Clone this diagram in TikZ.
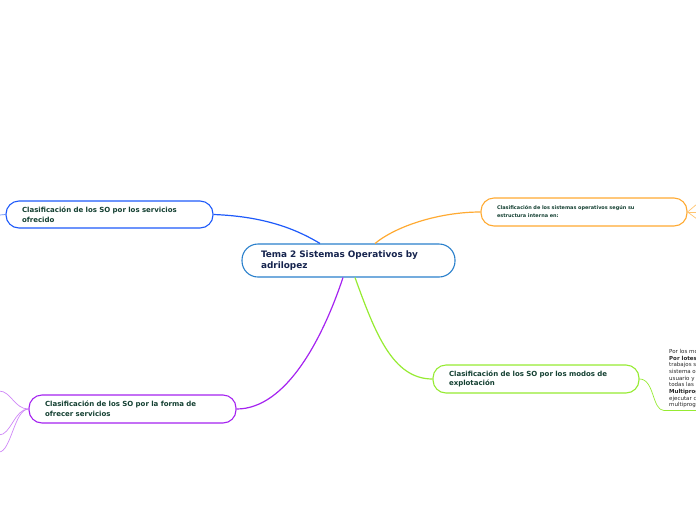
\documentclass[tikz,border=0pt]{standalone}
\usepackage{fontspec}
\setmainfont{DejaVu Sans}
\usetikzlibrary{positioning,calc}
\definecolor{centralblue}{RGB}{42,128,204}
\definecolor{branchblue}{RGB}{30,90,250}
\definecolor{branchorange}{RGB}{255,170,50}
\definecolor{branchpurple}{RGB}{165,35,240}
\definecolor{branchgreen}{RGB}{150,235,50}
\definecolor{navytext}{RGB}{22,36,78}
\definecolor{darkteal}{RGB}{20,64,50}
\definecolor{greytext}{RGB}{40,40,40}

\begin{document}
\begin{tikzpicture}[x=1pt,y=-1pt,
    topic/.style={draw,line width=1.1pt,rounded corners=13pt,fill=white,align=left,
        inner xsep=16pt,inner ysep=0pt,minimum height=28pt,text=darkteal,
        font=\bfseries\fontsize{7}{9.8}\selectfont},
    link/.style={line width=1.2pt},
    stub/.style={line width=0.7pt}]
    \useasboundingbox (0,0) rectangle (696,520);
    \clip (0,0) rectangle (696,520);

    % Central topic
    \node[draw=centralblue,line width=1.1pt,rounded corners=16pt,fill=white,align=left,
        inner xsep=19pt,inner ysep=0pt,text width=175pt,minimum height=33pt,text=navytext,
        font=\bfseries\fontsize{8.9}{11}\selectfont] (tema) at (348.5,260.5)
        {Tema 2 Sistemas Operativos by\\adrilopez};

    % Main topics
    \node[topic,draw=branchblue,text width=175pt,minimum height=27pt] (servicios) at (109.5,214.5)
        {Clasificación de los SO por los servicios\\ofrecido};
    \node[topic,draw=branchorange,text width=174pt,font=\bfseries\fontsize{4.95}{8}\selectfont] (estructura) at (584,212)
        {Clasificación de los sistemas operativos según su\\estructura interna en:};
    \node[topic,draw=branchpurple,text width=175pt] (forma) at (132.5,409)
        {Clasificación de los SO por la forma de\\ofrecer servicios};
    \node[topic,draw=branchgreen,text width=174pt] (modos) at (536,379)
        {Clasificación de los SO por los modos de\\explotación};

    % Links from the central topic
    \draw[link,branchblue] (servicios.east) .. controls +(55,2) and +(-20,-12) .. ([xshift=-28.5pt]tema.north);
    \draw[link,branchorange] ([xshift=26.5pt]tema.north) .. controls +(22,-18) and +(-40,0) .. (estructura.west);
    \draw[link,branchpurple] ([xshift=-5.5pt]tema.south) .. controls +(-20,60) and +(50,0) .. (forma.east);
    \draw[link,branchgreen] ([xshift=6.5pt]tema.south) .. controls +(20,55) and +(-40,0) .. (modos.west);

    % Subtopics running off the page
    \coordinate (servicioscut) at (0,215);
    \draw[stub,branchblue!70] (servicios.west) -- (servicioscut);

    \coordinate (estructuraA) at (697,204);
    \coordinate (estructuraB) at (697,212);
    \coordinate (estructuraC) at (697,219);
    \foreach \e in {estructuraA,estructuraB,estructuraC}
        \draw[stub,branchorange!70] (estructura.east) -- (\e);

    \coordinate (formaA) at (-1,391);
    \coordinate (formaB) at (-1,435);
    \coordinate (formaC) at (-1,452);
    \foreach \f in {formaA,formaB,formaC}
        \draw[stub,branchpurple!55] (forma.west) .. controls +(-14,0) and +(12,0) .. (\f);

    % Text on the modos branch
    \node[anchor=north west,align=left,inner sep=0pt,text=greytext,
        font=\fontsize{5.5}{6.7}\selectfont] (modostext) at (669,349)
        {Por los mo\\\textbf{Por lotes}\\trabajos s\\sistema o\\usuario y\\todas las\\
         \textbf{Multiprog}\\ejecutar c\\multiprog};
    \coordinate (modosline) at (664,410.5);
    \coordinate (modoscut) at (698,410.5);
    \draw[stub,branchgreen] (modos.east) .. controls +(15,0) and +(-12,0) .. (modosline);
    \draw[line width=1.8pt,branchgreen] (modosline) -- (modoscut);
\end{tikzpicture}
\end{document}
